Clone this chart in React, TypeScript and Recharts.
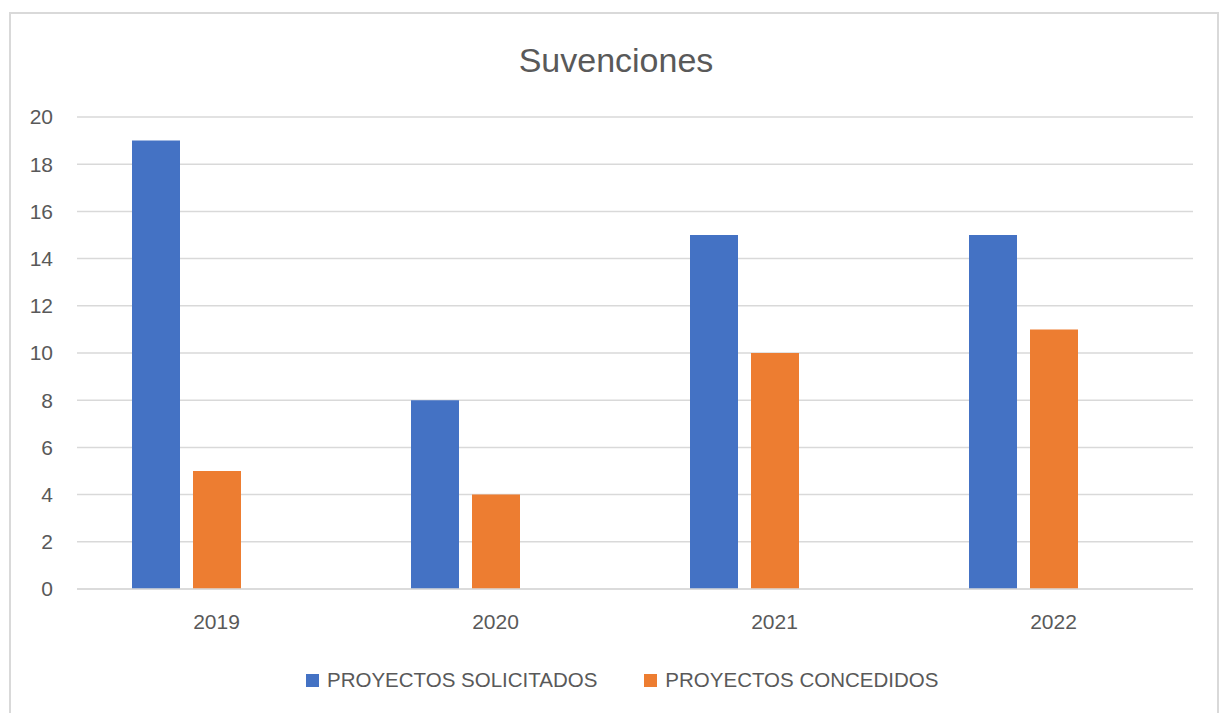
import { BarChart, Bar, XAxis, YAxis, CartesianGrid, Legend } from 'recharts'

const years = ['2019', '2020', '2021', '2022']
const solicitados = [19, 8, 15, 15]
const concedidos = [5, 4, 10, 11]
// Excel reserves a third (empty) slot in each group, which pushes bars left of the label
const vacio = [null, null, null, null]
const yTicks = [0, 2, 4, 6, 8, 10, 12, 14, 16, 18, 20]
const legendOrder = ['PROYECTOS SOLICITADOS', 'PROYECTOS CONCEDIDOS']

const data = years.map((year, i) => ({
  year,
  solicitados: solicitados[i],
  concedidos: concedidos[i],
  vacio: vacio[i],
}))

const font = '"Liberation Sans", Arial, sans-serif'
const textColor = '#595959'
const gridColor = '#d9d9d9'
const tick = { fontSize: 21, fill: textColor, fontFamily: font }

function LegendBox({ payload }: { payload?: any[] }) {
  const items = legendOrder
    .map((name) => (payload || []).find((p) => p.value === name))
    .filter(Boolean)
  return (
    <div
      style={{
        display: 'flex',
        alignItems: 'center',
        height: 26,
        paddingLeft: 306,
        fontFamily: font,
        fontSize: 20.5,
        color: textColor,
      }}
    >
      {items.map((p: any) => (
        <div key={p.value} style={{ display: 'flex', alignItems: 'center', marginRight: 47 }}>
          <span style={{ width: 13, height: 13, background: p.color, marginRight: 8 }} />
          <span>{p.value}</span>
        </div>
      ))}
    </div>
  )
}

export default function App() {
  return (
    <div style={{ position: 'absolute', left: 0, top: 0, width: 1224, height: 713, background: '#fff', overflow: 'hidden' }}>
      <div
        style={{
          position: 'absolute',
          left: 9,
          top: 12,
          width: 1210,
          height: 720,
          border: `2px solid ${gridColor}`,
          boxSizing: 'border-box',
        }}
      />
      <div
        style={{
          position: 'absolute',
          left: 0,
          top: 43,
          width: 1232,
          height: 34,
          lineHeight: '34px',
          textAlign: 'center',
          fontFamily: font,
          fontSize: 34,
          color: textColor,
        }}
      >
        Suvenciones
      </div>
      <BarChart
        width={1224}
        height={713}
        data={data}
        margin={{ top: 117, right: 31, left: 0, bottom: 20 }}
        barSize={48}
        barGap={13}
      >
        <CartesianGrid vertical={false} stroke={gridColor} strokeWidth={1.5} />
        <XAxis
          dataKey="year"
          height={78}
          tick={tick}
          tickLine={false}
          tickSize={0}
          tickMargin={25}
          axisLine={{ stroke: gridColor, strokeWidth: 1.5 }}
        />
        <YAxis
          width={77}
          domain={[0, 20]}
          ticks={yTicks}
          interval={0}
          tick={tick}
          axisLine={false}
          tickLine={false}
          tickSize={0}
          tickMargin={24}
        />
        <Legend
          verticalAlign="bottom"
          wrapperStyle={{ left: 0, width: 1224 }}
          content={(props: any) => <LegendBox payload={props.payload} />}
        />
        <Bar dataKey="solicitados" name="PROYECTOS SOLICITADOS" fill="#4472C4" isAnimationActive={false} />
        <Bar dataKey="concedidos" name="PROYECTOS CONCEDIDOS" fill="#ED7D31" isAnimationActive={false} />
        <Bar dataKey="vacio" name="vacio" legendType="none" fill="#A5A5A5" isAnimationActive={false} />
      </BarChart>
    </div>
  )
}
